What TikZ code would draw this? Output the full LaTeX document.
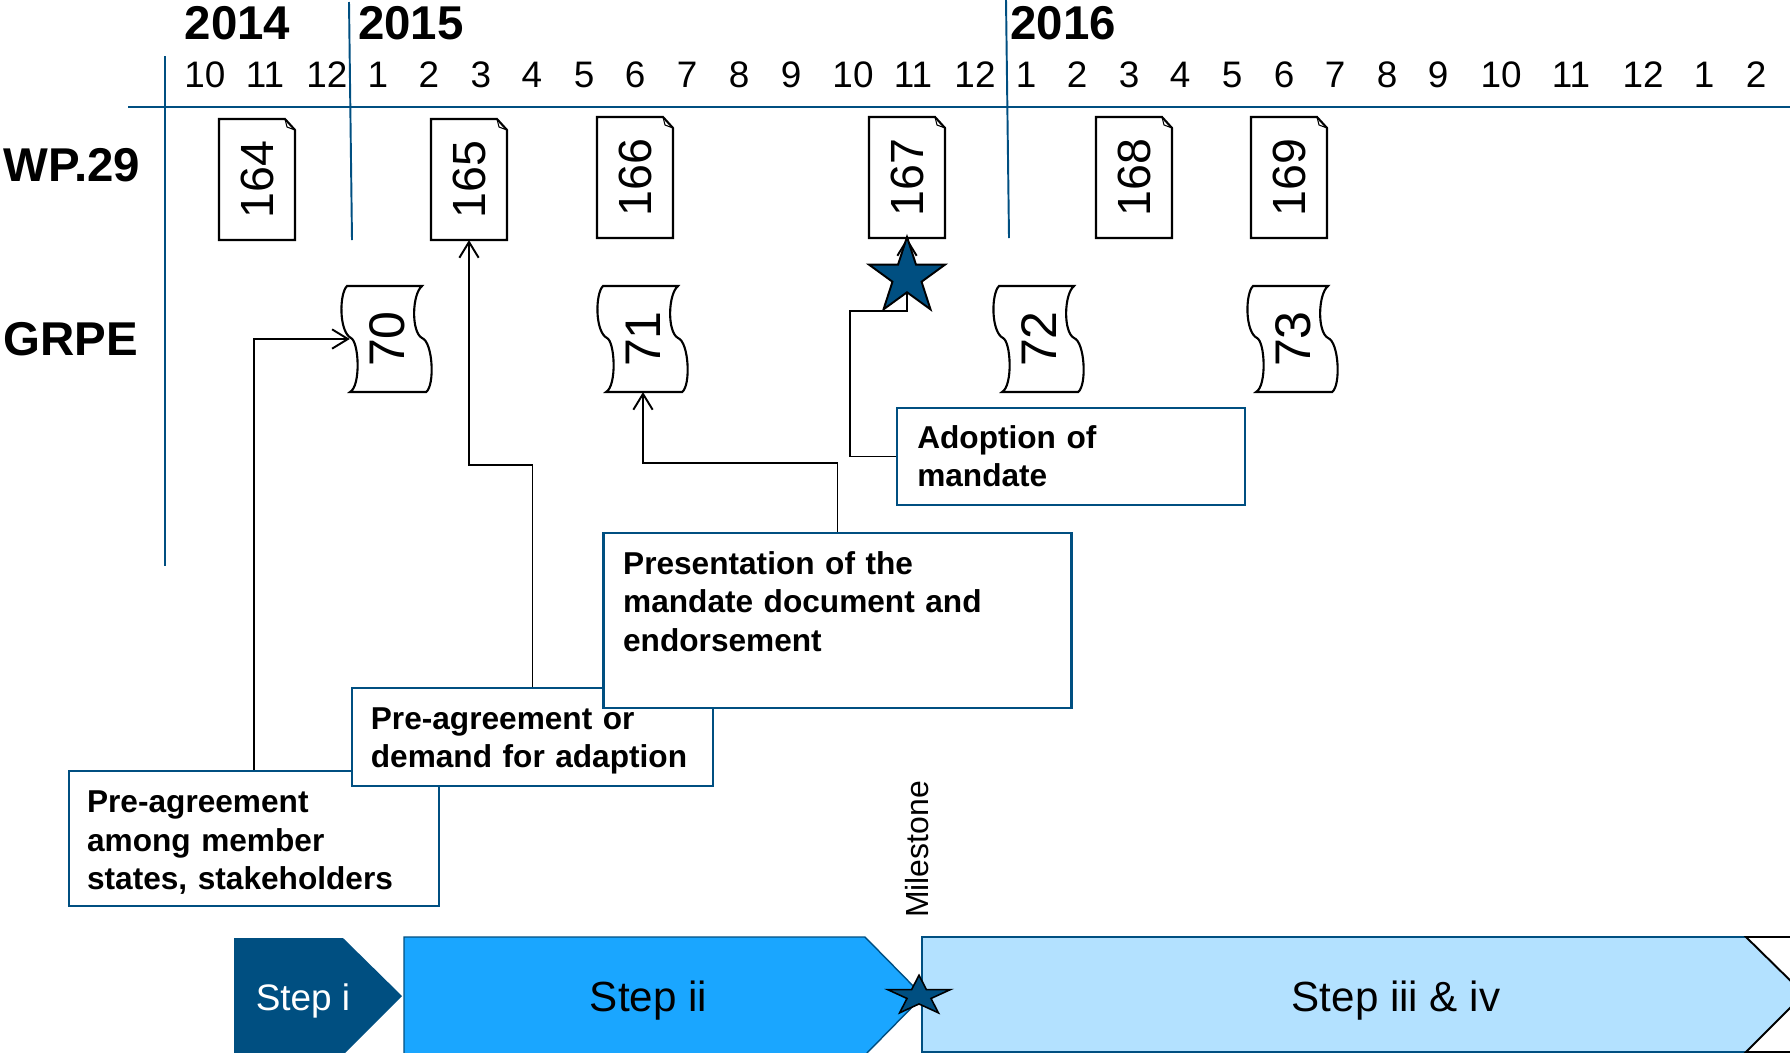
\documentclass[tikz,border=0pt]{standalone}
\usepackage{fontspec}
\setmainfont{Liberation Sans}
\usetikzlibrary{arrows.meta,shapes.geometric}
\definecolor{darkblue}{HTML}{004F81}
\definecolor{midblue}{HTML}{1AA6FF}
\definecolor{paleblue}{HTML}{B3E1FF}
\tikzset{
  axis line/.style={draw=darkblue,line width=1.1pt},
  year node/.style={font=\fontsize{27}{30}\selectfont\bfseries,inner sep=0},
  month node/.style={font=\fontsize{21}{24}\selectfont,inner sep=0},
  doc node/.style={font=\fontsize{26.5}{28}\selectfont,inner sep=0,minimum width=42.9pt,minimum height=68.6pt},
  scroll node/.style={font=\fontsize{28.5}{30}\selectfont,inner sep=0,minimum width=42pt,minimum height=60pt},
  note node/.style={draw=darkblue,line width=1.2pt,fill=white,font=\fontsize{18}{21.8}\selectfont\bfseries,align=left,inner sep=0},
  step node/.style={font=\fontsize{24}{28}\selectfont,inner sep=0},
  link/.style={->,>={Straight Barb[length=9pt,width=11pt]},line width=1.1pt}
}
\newcommand{\notelift}{\rule{0pt}{17pt}}
\newcommand{\wpdoc}[3]{
  \draw[line width=1.2pt,fill=white] (#1,#2) -- ++(66,0) -- ++(10,11) -- ++(0,110) -- ++(-76,0) -- cycle;
  \draw[line width=.6pt] (#1+66,#2) -- ++(2,8) -- ++(8,3);
  \node[doc node] (d#3) at (#1+38,#2+60.5) {\rotatebox{90}{#3}\hspace{8pt}};
}
\newcommand{\grpescroll}[3]{
  \draw[line width=1.2pt,fill=white] (#1+6,#2) -- (#1+81,#2)
    .. controls (#1+71,#2+8) and (#1+70,#2+46) .. (#1+81,#2+52)
    .. controls (#1+92,#2+56) and (#1+94,#2+100) .. (#1+85,#2+106)
    -- (#1+9,#2+106)
    .. controls (#1+20,#2+100) and (#1+18,#2+56) .. (#1+10,#2+52)
    .. controls (#1-2,#2+46) and (#1-2,#2+8) .. (#1+6,#2) -- cycle;
  \node[scroll node] (s#3) at (#1+46,#2+53) {\rotatebox{90}{#3}};
}
\begin{document}
\begin{tikzpicture}[x=0.02cm,y=-0.02cm]
  \useasboundingbox (0,0) rectangle (1790,1052);
  \clip (0,0) rectangle (1790,1052);

  \draw[axis line] (128,107) -- (1790,107);
  \draw[axis line] (165,56) -- (165,566);
  \draw[axis line] (349,2) -- (352,240);
  \draw[axis line] (1006,0) -- (1009,238);

  \node[year node] (y2014) at (237.5,23.5) {2014};
  \node[year node] (y2015) at (411,23.5) {2015};
  \node[year node] (y2016) at (1063,23.5) {2016};
  \node[year node] (wp29) at (72,165.5) {WP.29};
  \node[year node] (grpe) at (71,339) {GRPE};

  \foreach \mx/\mlabel in {205/10,265/11,327/12,378/1,429/2,481/3,532/4,584/5,635/6,687/7,739/8,791/9,853/10,913/11,975/12,1026/1,1077/2,1129/3,1180/4,1232/5,1284/6,1335/7,1387/8,1438/9,1501/10,1571/11,1643/12,1704/1,1756/2}
    \node[month node] (m\mx) at (\mx,74.5) {\mlabel};

  \wpdoc{219}{119}{164}
  \wpdoc{431}{119}{165}
  \wpdoc{597}{117}{166}
  \wpdoc{869}{117}{167}
  \wpdoc{1096}{117}{168}
  \wpdoc{1251}{117}{169}

  \grpescroll{341}{286}{70}
  \grpescroll{597}{286}{71}
  \grpescroll{993}{286}{72}
  \grpescroll{1247}{286}{73}

  \node[note node,minimum width=210.9pt,minimum height=77pt,text width=190pt] (note1) at (254,838.5) {\notelift Pre-agreement\\among member\\states, stakeholders};
  \node[note node,minimum width=205.6pt,minimum height=55.3pt,text width=184pt] (note2) at (532.5,737) {\notelift Pre-agreement or\\demand for adaption};
  \node[note node,minimum width=266.4pt,minimum height=99.6pt,text width=244pt] (note3) at (837.5,620.5) {Presentation of the\\mandate document and\\endorsement\\\mbox{}};
  \node[note node,minimum width=197.6pt,minimum height=55pt,text width=175pt] (note4) at (1071,456.5) {Adoption of\\mandate};

  \coordinate (turn165) at (469,465);
  \coordinate (turn71) at (643,463);
  \coordinate (turn167) at (850,311);
  \draw[link] (note1.north) |- (s70.west);
  \draw[link] (note2.north) |- (turn165) -- (d165.south);
  \draw[link] (note3.north) |- (turn71) -- (s71.south);
  \draw[link] (note4.west) -| (turn167) -| (d167.south);

  \node[star,star points=5,star point ratio=2.618,draw=black,line width=1.1pt,fill=darkblue,inner sep=0,minimum size=80*0.02cm] (bigstar) at (907,277) {};

  \node[rotate=90,inner sep=0,font=\fontsize{18.2}{20}\selectfont] (milestone) at (917,849.5) {Milestone};

  \fill[darkblue] (234,938) -- (343,938) -- (402,996) -- (343,1055) -- (234,1055) -- cycle;
  \draw[darkblue,line width=.8pt,fill=midblue] (404,937) -- (865,937) -- (923,996) -- (865,1055) -- (404,1055) -- cycle;
  \fill[paleblue] (922,937) -- (1746,937) -- (1804,994) -- (1746,1052) -- (922,1052) -- cycle;
  \draw[darkblue,line width=.8pt] (1746,937) -- (922,937) -- (922,1052) -- (1746,1052);
  \draw[black,line width=1.1pt] (1790,937) -- (1746,937) -- (1804,994) -- (1746,1052) -- (1790,1052);

  \node[star,star points=5,star point ratio=2.618,draw=black,line width=.9pt,fill=darkblue,inner sep=0,minimum size=66*0.02cm,transform shape,yscale=.63] (smallstar) at (919,996) {};

  \node[step node,text=white,font=\fontsize{21}{24}\selectfont] (step1) at (303,1001) {Step i};
  \node[step node] (step2) at (648.5,1001) {Step ii};
  \node[step node] (step3) at (1396,1001) {Step iii \& iv};
\end{tikzpicture}
\end{document}
